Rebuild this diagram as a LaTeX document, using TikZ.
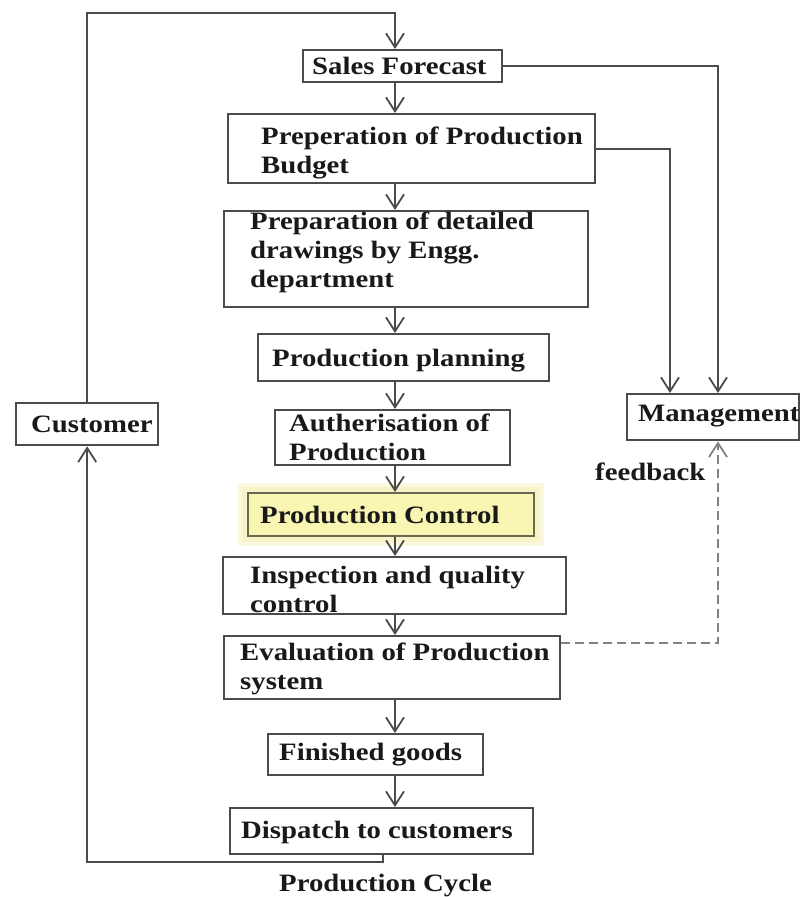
\documentclass[tikz,border=0pt]{standalone}
\usepackage{fontspec}
\setmainfont{Liberation Serif}[FakeStretch=1.15]
\usetikzlibrary{arrows.meta}
\pgfdeclarelayer{bg}
\pgfsetlayers{bg,main}
\definecolor{linec}{RGB}{75,75,75}
\definecolor{textc}{RGB}{25,25,25}
\definecolor{ctlfill}{RGB}{249,245,178}
\definecolor{ctlline}{RGB}{105,105,80}
\definecolor{glowc}{RGB}{246,242,190}
\definecolor{fbc}{RGB}{130,130,130}
\begin{document}
\begin{tikzpicture}[x=1pt,y=-1pt,
  frame/.style={draw=linec, line width=2.4pt, fill=white, inner sep=0pt, anchor=north west},
  boxtext/.style={anchor=west, inner sep=0pt, align=left, text=textc,
    font=\fontsize{25}{29}\selectfont\bfseries},
  flow/.style={draw=linec, line width=2pt,
    -{Straight Barb[length=14pt,width=18pt,line width=1.8pt]}},
  fb/.style={draw=fbc, line width=2pt, dash pattern=on 9pt off 5pt,
    -{Straight Barb[length=14pt,width=18pt,line width=1.8pt]}}]
\useasboundingbox (0,0) rectangle (803,897);

% boxes of the main column
\node[frame, minimum width=199pt, minimum height=32pt] (sf)  at (302,49)  {};
\node[frame, minimum width=367pt, minimum height=69pt] (bud) at (227,113) {};
\node[frame, minimum width=364pt, minimum height=96pt] (drw) at (223,210) {};
\node[frame, minimum width=291pt, minimum height=47pt] (pln) at (257,333) {};
\node[frame, minimum width=235pt, minimum height=55pt] (aut) at (274,409) {};
\node[frame, draw=ctlline, fill=ctlfill, minimum width=286pt, minimum height=43pt] (ctl) at (247,492) {};
\node[frame, minimum width=343pt, minimum height=57pt] (ins) at (222,556) {};
\node[frame, minimum width=336pt, minimum height=63pt] (evl) at (223,635) {};
\node[frame, minimum width=215pt, minimum height=41pt] (fin) at (267,733) {};
\node[frame, minimum width=303pt, minimum height=46pt] (dsp) at (229,807) {};
% side boxes
\node[frame, minimum width=142pt, minimum height=42pt] (cus) at (15,402)  {};
\node[frame, minimum width=172pt, minimum height=46pt] (mgt) at (626,393) {};

% soft halo round the control box
\begin{pgfonlayer}{bg}
  \fill[glowc, opacity=0.5] ([shift={(-9,-9)}]ctl.north west) rectangle ([shift={(9,9)}]ctl.south east);
  \fill[glowc, opacity=0.7] ([shift={(-5,-5)}]ctl.north west) rectangle ([shift={(5,5)}]ctl.south east);
\end{pgfonlayer}

% box labels
\node[boxtext] (sft)  at (312,66)  {Sales Forecast};
\node[boxtext] (budt) at (261,153) {Preperation of Production\\Budget};
\node[boxtext] (drwt) at (250,252) {Preparation of detailed\\drawings by Engg.\\department};
\node[boxtext] (plnt) at (272,361) {Production planning};
\node[boxtext] (autt) at (289,437) {Autherisation of\\Production};
\node[boxtext] (ctlt) at (260,515) {Production Control};
\node[boxtext] (inst) at (250,589) {Inspection and quality\\control};
\node[boxtext] (evlt) at (240,669) {Evaluation of Production\\system};
\node[boxtext] (fint) at (279,755) {Finished goods};
\node[boxtext] (dspt) at (241,832) {Dispatch to customers};
\node[boxtext] (cust) at (31,424)  {Customer};
\node[boxtext] (mgtt) at (638,416) {Management};
\node[boxtext, anchor=base west] (fbt) at (595,480) {feedback};
\node[boxtext, anchor=base west] (cap) at (279,891) {Production Cycle};

% reference points for the connectors
\coordinate (col)   at (395,0);
\coordinate (toprt) at (395,13);
\coordinate (bot)   at (383,862);
\coordinate (mg1)   at (718,0);
\coordinate (mg2)   at (670,0);
\coordinate (fbrow) at (0,643);

% main column
\draw[flow] (sf.south -| col)  -- (bud.north -| col);
\draw[flow] (bud.south -| col) -- (drw.north -| col);
\draw[flow] (drw.south -| col) -- (pln.north -| col);
\draw[flow] (pln.south -| col) -- (aut.north -| col);
\draw[flow] (aut.south -| col) -- (ctl.north -| col);
\draw[flow] (ctl.south -| col) -- (ins.north -| col);
\draw[flow] (ins.south -| col) -- (evl.north -| col);
\draw[flow] (evl.south -| col) -- (fin.north -| col);
\draw[flow] (fin.south -| col) -- (dsp.north -| col);

% customer loop
\draw[flow] (cus.north) |- (toprt) -- (sf.north -| toprt);
\draw[flow] (dsp.south -| bot) -- (bot) -| (cus.south);

% to management
\draw[flow] (sf.east)  -| (mgt.north -| mg1);
\draw[flow] (bud.east) -| (mgt.north -| mg2);
\draw[fb] (evl.east |- fbrow) -| (mgt.south -| mg1);
\end{tikzpicture}
\end{document}
